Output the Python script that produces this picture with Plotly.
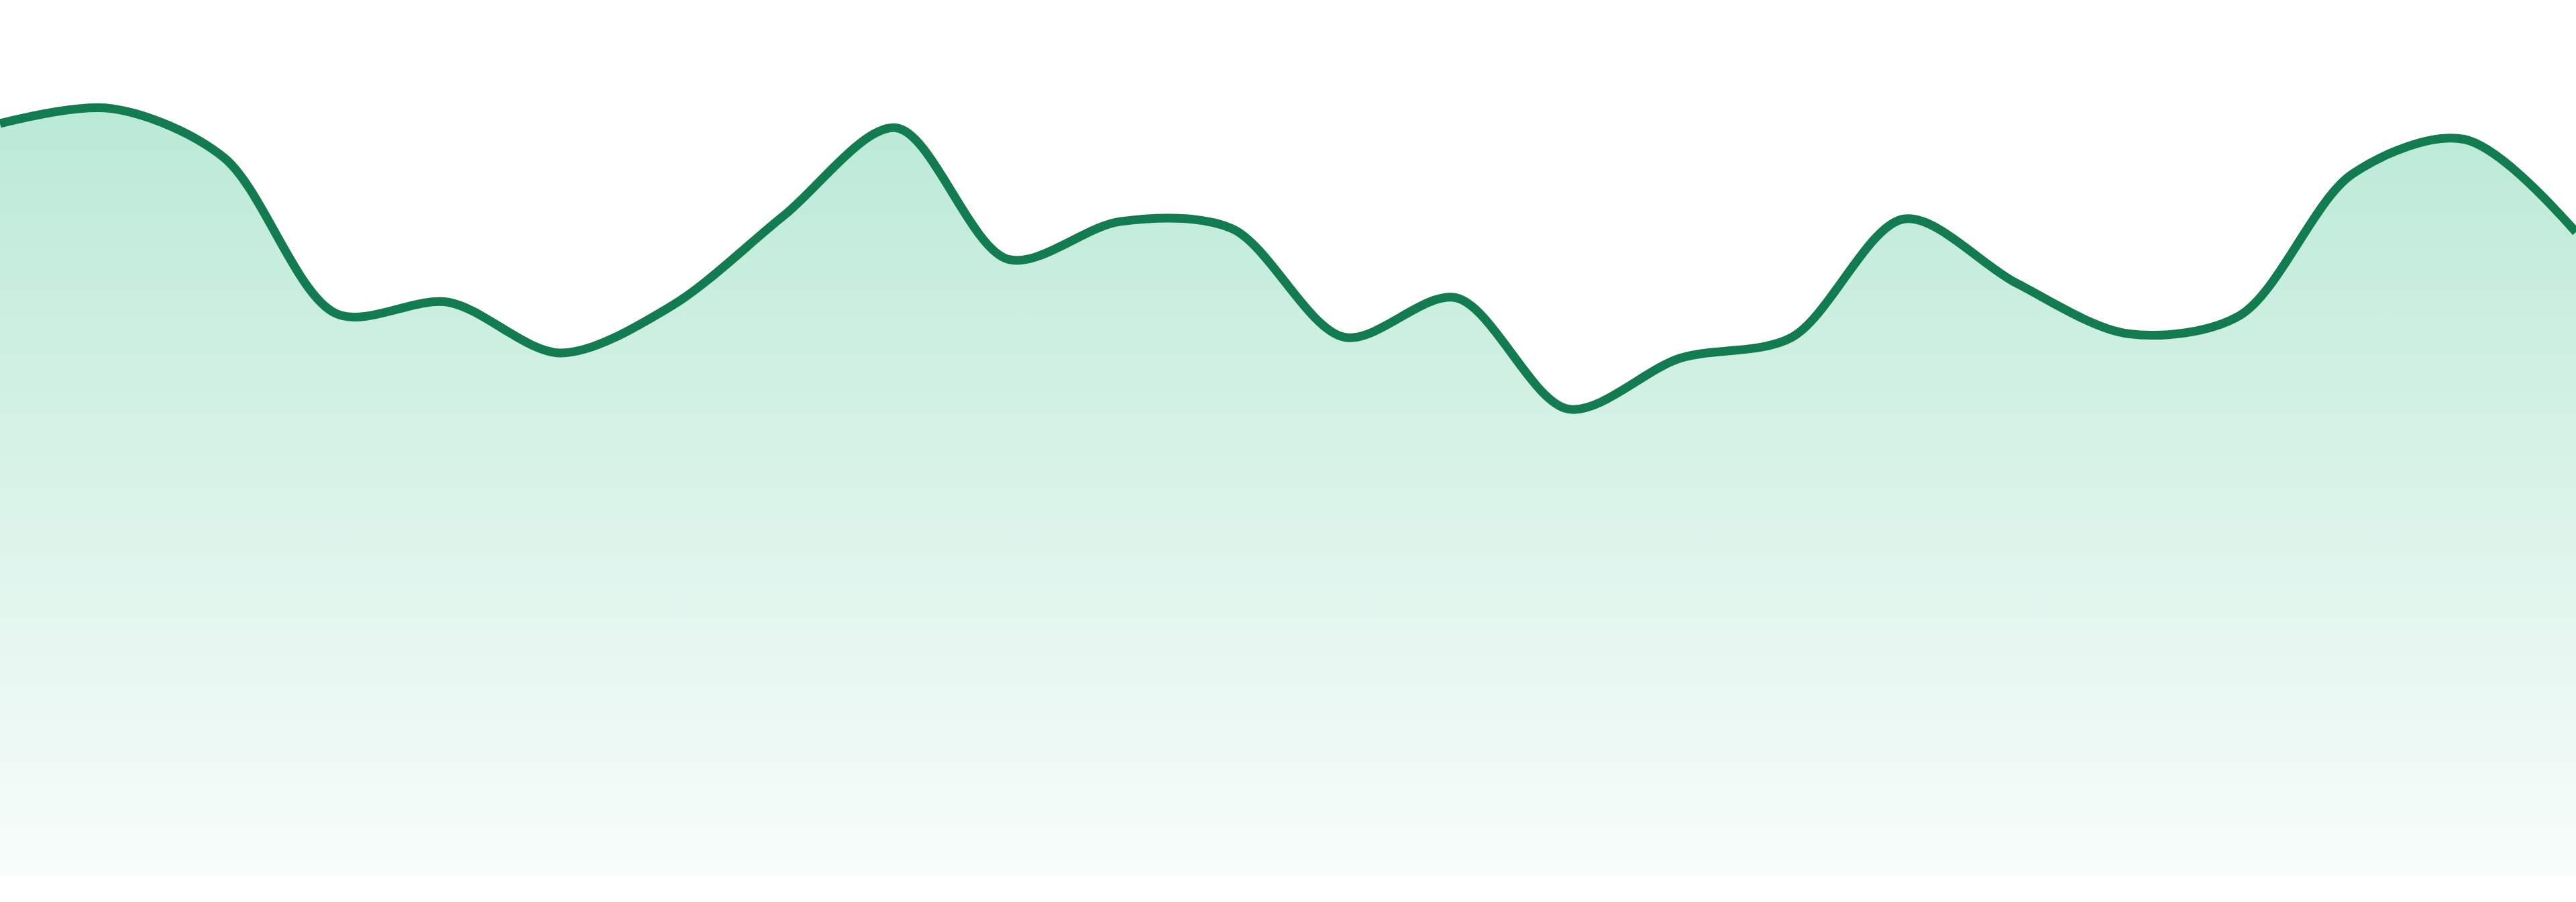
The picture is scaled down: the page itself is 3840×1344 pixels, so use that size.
import plotly.graph_objects as go

# sampled points along the curve (one per step)
steps = list(range(24))
values = [85.9, 87.6, 82.0, 64.2, 65.5, 59.7, 65.1, 75.4, 85.4, 70.4, 74.7, 73.9,
          61.5, 66.0, 53.3, 59.1, 61.5, 75.0, 67.7, 61.9, 64.0, 80.1, 84.1, 73.5]

y_top = 100

fig = go.Figure()
fig.add_trace(go.Scatter(
    x=steps, y=values,
    mode="lines",
    line=dict(color="#127b50", width=13, shape="spline", smoothing=0.9),
    fill="tozeroy",
    fillgradient=dict(
        type="vertical",
        start=0, stop=y_top,
        colorscale=[[0, "rgba(20,180,118,0.03)"], [1, "rgba(20,180,118,0.33)"]],
    ),
    hoverinfo="skip",
))

fig.update_layout(
    width=3840, height=1344,
    margin=dict(l=0, r=0, t=0, b=39, pad=0),
    paper_bgcolor="white",
    plot_bgcolor="white",
    showlegend=False,
    xaxis=dict(range=[0, len(steps) - 1], visible=False, fixedrange=True),
    yaxis=dict(range=[0, y_top], visible=False, fixedrange=True),
)

fig.write_html(
    "out.html",
    config={"displayModeBar": False},
    post_script="document.body.style.margin='0';document.body.style.overflow='hidden';",
)
